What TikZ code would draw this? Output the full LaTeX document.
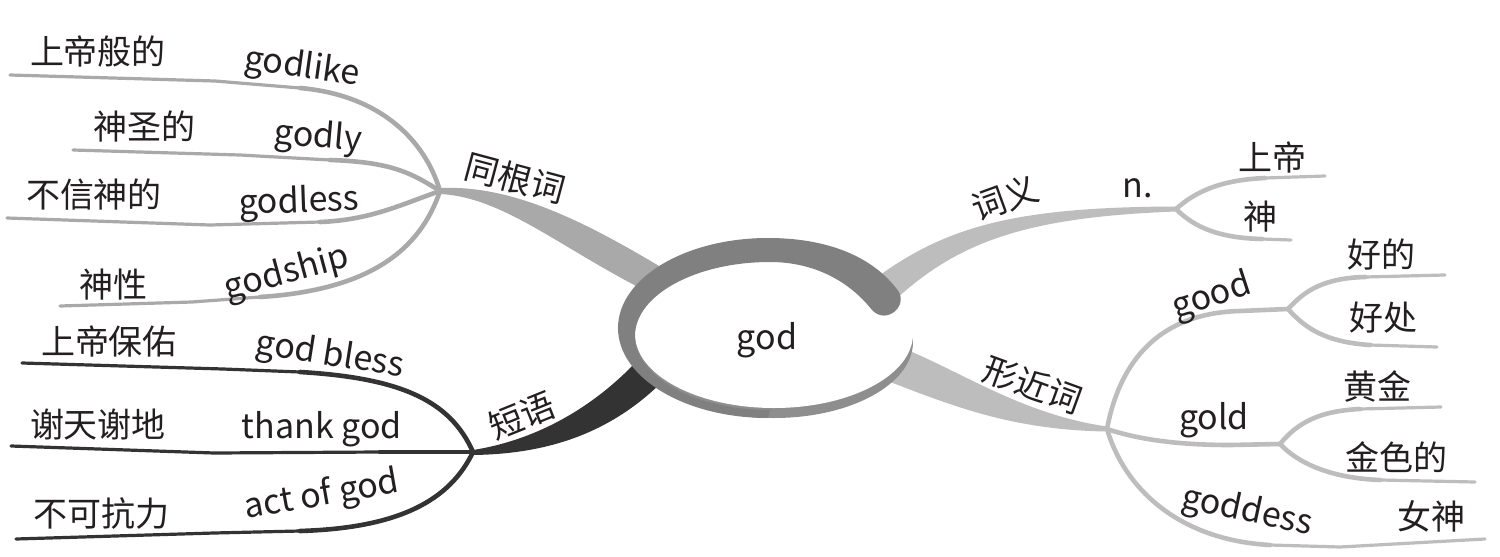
\documentclass[tikz,border=0pt]{standalone}
\usepackage{fontspec}
\setmainfont{Noto Sans CJK SC}
\definecolor{txtc}{HTML}{231F20}
\definecolor{lg}{HTML}{A9A9A9}
\definecolor{rg}{HTML}{BDBDBD}
\definecolor{dg}{HTML}{333333}
\definecolor{ringc}{HTML}{808080}
\definecolor{rimc}{HTML}{8E8E8E}
\begin{document}
\begin{tikzpicture}[x=1pt,y=-1pt,
  lbl/.style={font=\fontsize{34}{40}\selectfont, text=txtc, inner sep=0pt},
  thickL/.style={line width=4.6pt, line cap=round, line join=round},
  thinL/.style={line width=3.2pt, line cap=round, line join=round}]
\useasboundingbox (0,0) rectangle (1500,557);
\fill[white] (0,0) rectangle (1500,557);

% junctions
\coordinate (J1) at (440,191);
\coordinate (J2) at (473,452);
\coordinate (J3) at (1176,209);
\coordinate (J4) at (1107,429);
\coordinate (J5) at (1288,309);
\coordinate (J6) at (1280,444);

% line ends
\coordinate (e1) at (10,75);
\coordinate (e2) at (73,150);
\coordinate (e3) at (7,218);
\coordinate (e4) at (60,306);
\coordinate (e5) at (22,363);
\coordinate (e6) at (11,446);
\coordinate (e7) at (16,539);
\coordinate (e8) at (1325,176);
\coordinate (e9) at (1291,240);
\coordinate (e10) at (1445,275);
\coordinate (e11) at (1437,347);
\coordinate (e12) at (1441,407);
\coordinate (e13) at (1475,482);
\coordinate (e14) at (1485,539);

% main bands
\fill[lg] ([yshift=3pt]J1) .. controls (510,185) and (580,218) .. (669,272) -- (656,296)
  .. controls (565,252) and (505,197) .. ([yshift=-3pt]J1) -- cycle;
\fill[dg] ([yshift=2pt]J2) .. controls (530,441) and (588,413) .. (638,360) -- (660,384)
  .. controls (610,432) and (550,454) .. ([yshift=-3pt]J2) -- cycle;
\fill[rg] (880,275) .. controls (950,225) and (1020,207) .. ([yshift=2.5pt]J3) -- ([yshift=-2.5pt]J3)
  .. controls (1030,217) and (960,240) .. (895,300) -- cycle;
\fill[rg] (895,345) .. controls (960,370) and (1020,414) .. ([yshift=2.5pt]J4) -- ([yshift=-2.5pt]J4)
  .. controls (1010,430) and (950,405) .. (880,378) -- cycle;

% left sub-branches
\draw[lg,thickL] (J1) .. controls (425,140) and (380,95) .. (300,88) coordinate (m1);
\draw[lg,thinL] (m1) -- (215,81) -- (e1);
\draw[lg,thickL] (J1) .. controls (410,172) and (390,162) .. (330,160) coordinate (m2);
\draw[lg,thinL] (m2) -- (240,155) -- (e2);
\draw[lg,thickL] (J1) .. controls (400,205) and (370,220) .. (320,222) coordinate (m3);
\draw[lg,thinL] (m3) -- (210,225) -- (e3);
\draw[lg,thickL] (J1) .. controls (420,250) and (370,290) .. (260,297) coordinate (m4);
\draw[lg,thinL] (m4) -- (192,302) -- (e4);

% phrase sub-branches
\draw[dg,thickL] (J2) .. controls (450,400) and (400,378) .. (300,372) coordinate (m5);
\draw[dg,thinL] (m5) -- (223,369) -- (e5);
\draw[dg,thickL] (J2) -- (380,452) coordinate (m6);
\draw[dg,thinL] (m6) -- (214,453) -- (e6);
\draw[dg,thickL] (J2) .. controls (450,500) and (400,528) .. (300,531) coordinate (m7);
\draw[dg,thinL] (m7) -- (214,533) -- (e7);

% meaning sub-branches
\draw[rg,thickL] (J3) .. controls (1195,192) and (1220,180) .. (1265,178) coordinate (m8);
\draw[rg,thinL] (m8) -- (e8);
\draw[rg,thickL] (J3) .. controls (1195,228) and (1220,238) .. (1262,239) coordinate (m9);
\draw[rg,thinL] (m9) -- (e9);

% similar-form sub-branches
\draw[rg,thickL] (J4) .. controls (1120,360) and (1160,313) .. (1240,311) -- (J5);
\draw[rg,thickL] (J5) .. controls (1305,290) and (1325,278) .. (1365,277) coordinate (m10);
\draw[rg,thinL] (m10) -- (e10);
\draw[rg,thickL] (J5) .. controls (1305,328) and (1325,342) .. (1370,345) coordinate (m11);
\draw[rg,thinL] (m11) -- (e11);
\draw[rg,thickL] (J4) .. controls (1140,440) and (1180,445) .. (1230,445) -- (J6);
\draw[rg,thickL] (J6) .. controls (1298,422) and (1320,411) .. (1360,409) coordinate (m12);
\draw[rg,thinL] (m12) -- (e12);
\draw[rg,thickL] (J6) .. controls (1298,463) and (1330,478) .. (1380,480) coordinate (m13);
\draw[rg,thinL] (m13) -- (e13);
\draw[rg,thickL] (J4) .. controls (1125,490) and (1180,540) .. (1270,545) coordinate (m14);
\draw[rg,thinL] (m14) -- (1340,547) -- (e14);

% central plate with rim and ring
\fill[rimc] (774,342) ellipse[x radius=139, y radius=76];
\fill[white] (774,334) ellipse[x radius=139, y radius=74];
\fill[ringc] (896,288) .. controls (870,255) and (825,238) .. (768,238)
  arc[start angle=-90, end angle=-270, x radius=150, y radius=90]
  -- (770,410)
  arc[start angle=90, end angle=270, x radius=135, y radius=74]
  .. controls (815,262) and (850,282) .. (872,310)
  .. controls (887,326) and (911,304) .. (896,288) -- cycle;
\node[lbl] (god) at (767,340) {god};

% labels left
\node[lbl] (c1) at (98,52) {上帝般的};
\node[lbl,rotate=-8] (w1) at (302,68) {godlike};
\node[lbl] (c2) at (144,126) {神圣的};
\node[lbl,rotate=-5] (w2) at (318,138) {godly};
\node[lbl] (c3) at (94,195) {不信神的};
\node[lbl,rotate=2] (w3) at (299,203) {godless};
\node[lbl] (c4) at (113,285) {神性};
\node[lbl,rotate=15] (w4) at (287,274) {godship};
\node[lbl,rotate=-15] (b1) at (515,178) {同根词};

\node[lbl] (c5) at (109,341) {上帝保佑};
\node[lbl,rotate=-9] (w5) at (330,356) {god bless};
\node[lbl] (c6) at (98,425) {谢天谢地};
\node[lbl] (w6) at (322,429) {thank god};
\node[lbl] (c7) at (101,514) {不可抗力};
\node[lbl,rotate=10] (w7) at (322,496) {act of god};
\node[lbl,rotate=22] (b2) at (522,416) {短语};

% labels right
\node[lbl,rotate=20] (b3) at (1005,198) {词义};
\node[lbl] (pos) at (1138,188) {n.};
\node[lbl] (c8) at (1272,157) {上帝};
\node[lbl] (c9) at (1260,217) {神};
\node[lbl,rotate=-20] (b4) at (1033,385) {形近词};
\node[lbl,rotate=18] (w8) at (1212,297) {good};
\node[lbl] (c10) at (1381,255) {好的};
\node[lbl] (c11) at (1383,318) {好处};
\node[lbl] (w9) at (1214,420) {gold};
\node[lbl] (c12) at (1377,386) {黄金};
\node[lbl] (c13) at (1396,457) {金色的};
\node[lbl,rotate=-12] (w10) at (1247,512) {goddess};
\node[lbl] (c14) at (1431,516) {女神};
\end{tikzpicture}
\end{document}
